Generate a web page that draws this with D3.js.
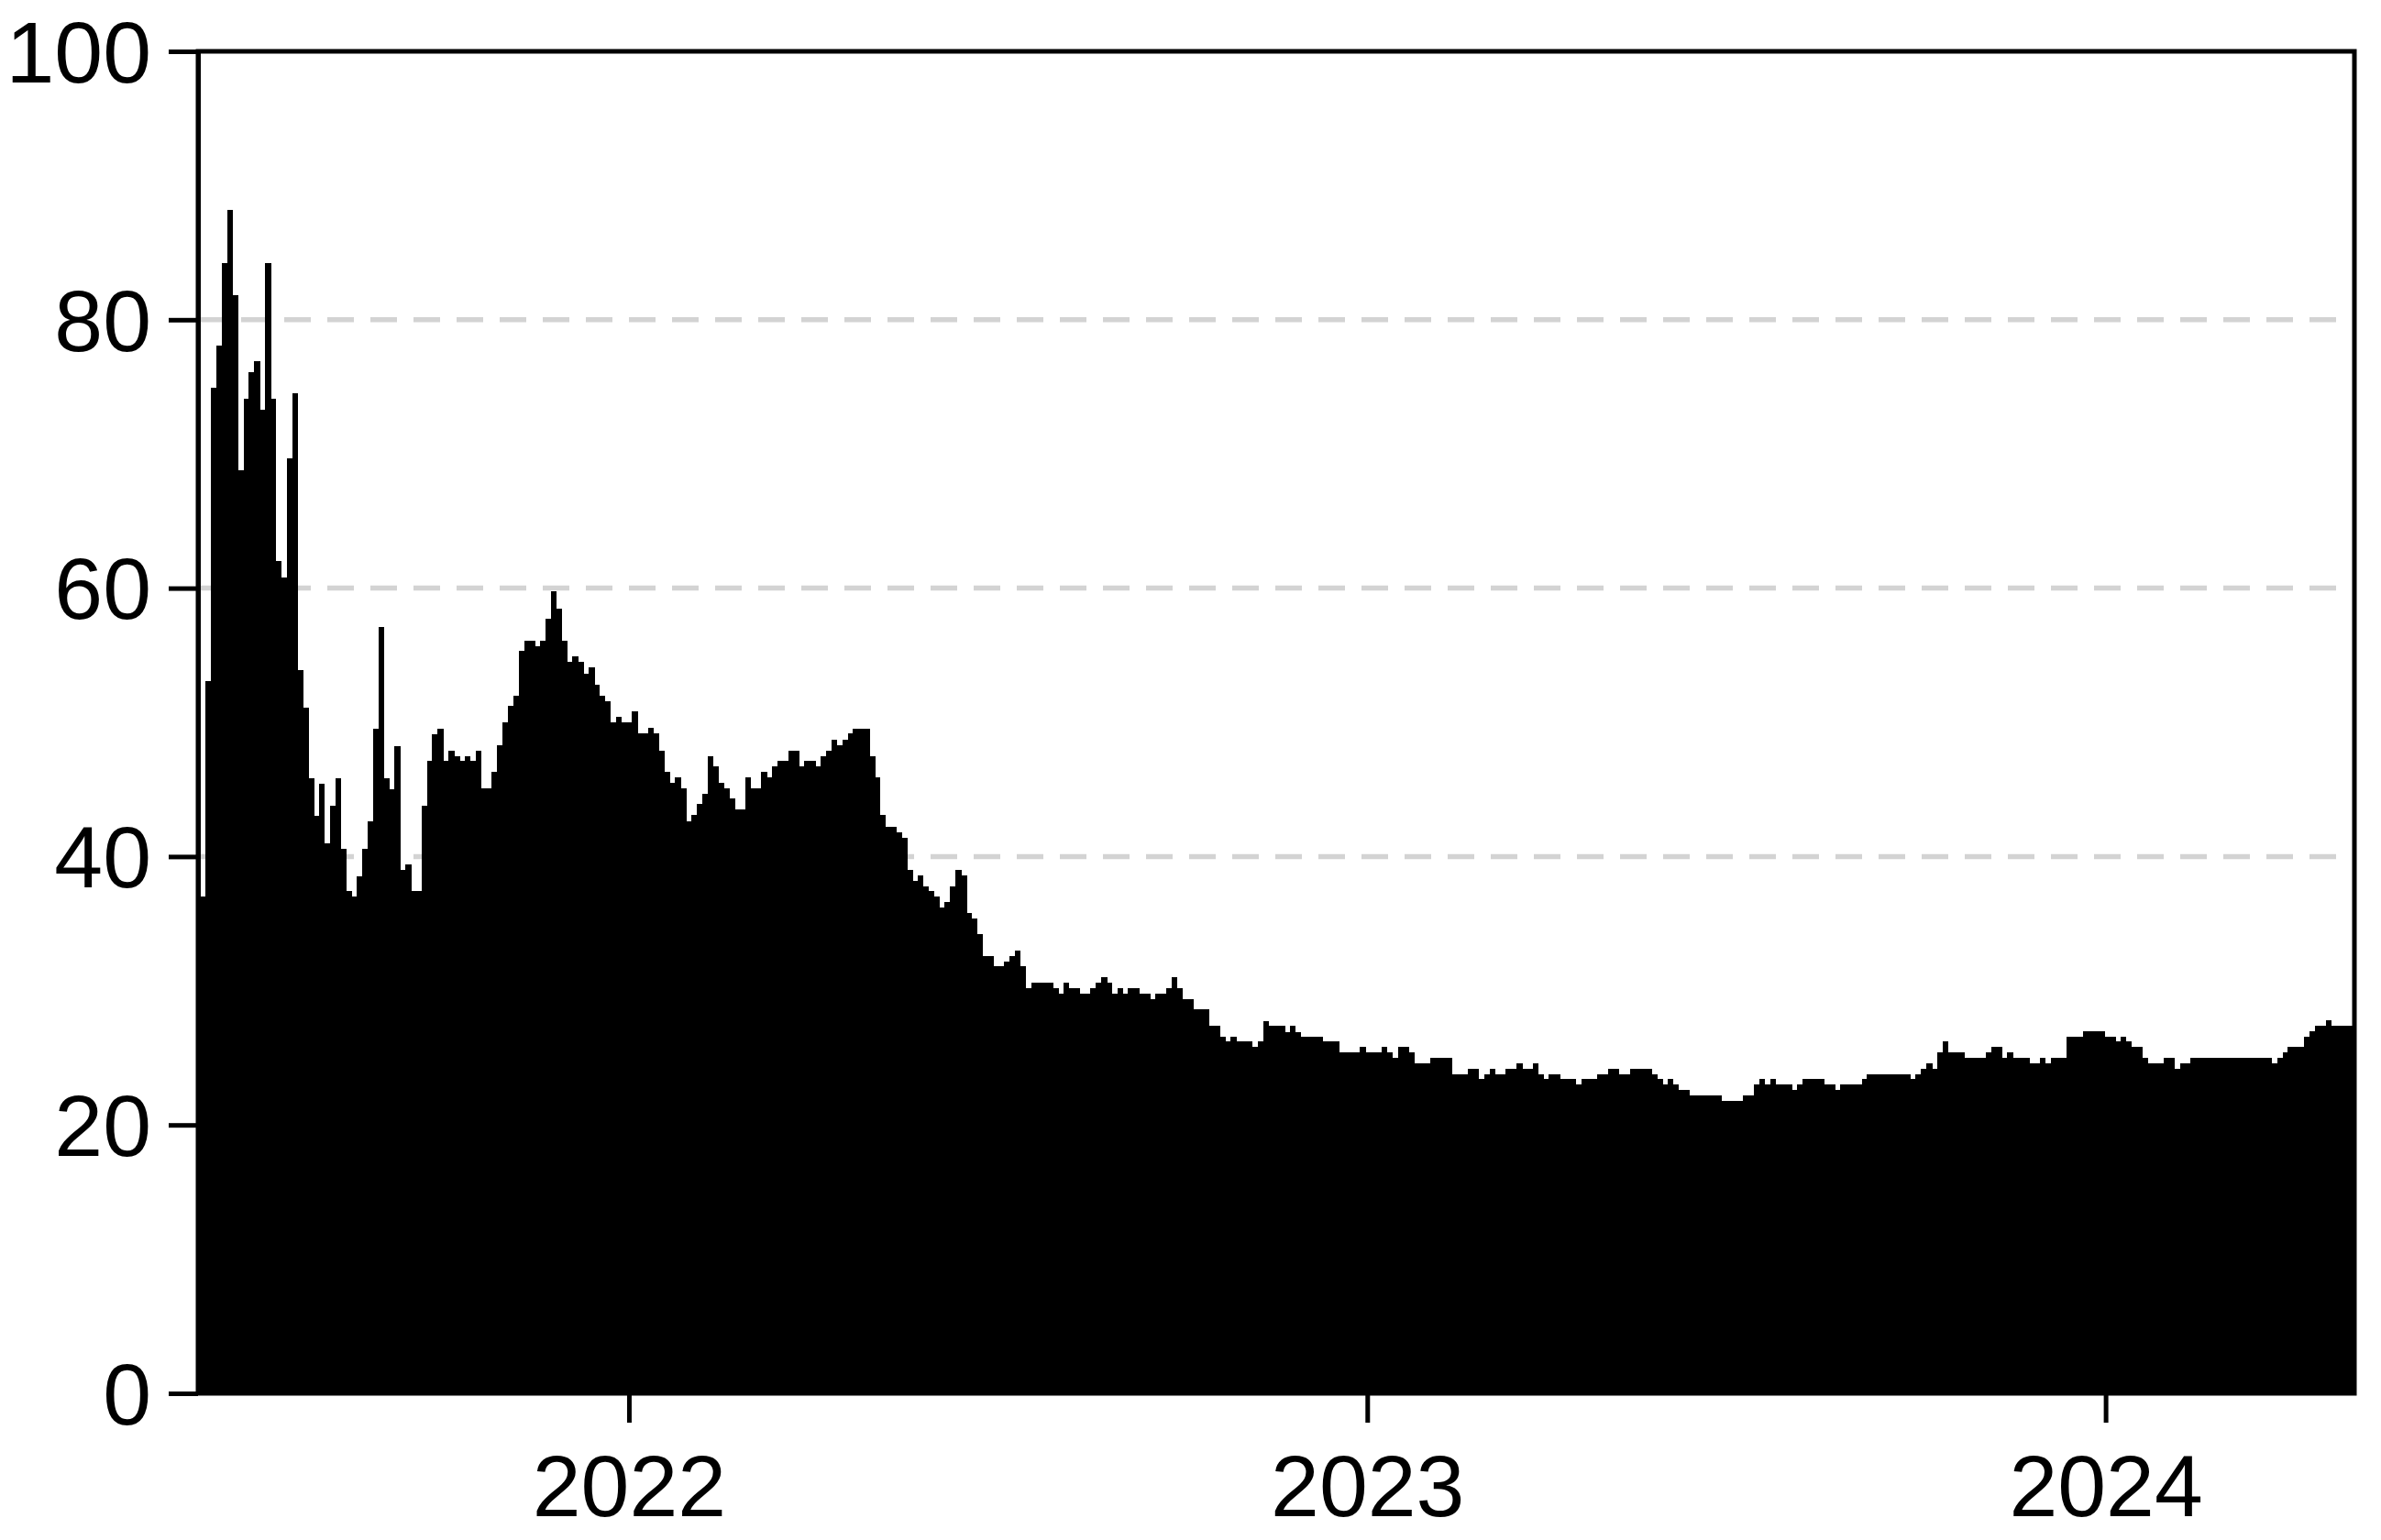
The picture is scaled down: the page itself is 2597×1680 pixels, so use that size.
<!DOCTYPE html>
<html>
<head>
<meta charset="utf-8">
<script src="https://cdn.jsdelivr.net/npm/d3@7"></script>
<style>
  html, body { margin: 0; padding: 0; background: #ffffff; }
  svg { display: block; }
</style>
</head>
<body>
<svg id="chart" width="2597" height="1680"></svg>
<script>
// ---------------- data ----------------
const startDate = new Date(2021, 5, 2);
const endDate = new Date(2024, 4, 3);
const yTicks = [0, 20, 40, 60, 80, 100];
const gridValues = [40, 60, 80];
const xTickDates = [new Date(2022, 0, 1), new Date(2023, 0, 1), new Date(2024, 0, 1)];
const xTickLabels = ["2022", "2023", "2024"];

// values, in time order
const values2021a = [37.0, 53.1, 74.9, 78.1, 84.2, 88.2, 81.8, 68.8, 74.1, 76.1, 76.9, 73.3,
  84.2, 74.1, 62.0, 60.8, 69.7, 74.5, 53.9, 51.1, 45.8, 43.0, 45.4, 41.0, 43.8, 45.8, 40.6,
  37.4, 37.0, 38.5, 40.6, 42.6, 49.5, 57.1, 45.8, 45.0, 48.2, 39.0, 39.4, 37.4, 37.4, 43.8,
  47.1, 49.1, 49.5, 47.1, 47.9, 47.5];
const values2021b = [47.1, 47.5, 47.1, 47.9, 45.1, 45.1, 46.3, 48.3, 50.0, 51.2, 52.0, 55.3,
  56.1, 56.1, 55.7, 56.1, 57.7, 59.8, 58.5, 56.1, 54.5, 54.9, 54.5, 53.6, 54.1, 52.8, 52.0,
  51.6, 50.0, 50.4, 50.0, 50.0, 50.8, 49.2, 49.2, 49.6, 49.2, 47.9, 46.3, 45.5, 45.9, 45.1,
  42.6, 43.1, 43.9, 44.7, 47.5, 46.7, 45.5, 45.1, 44.3, 43.5, 43.5, 45.9, 45.1, 45.1, 46.3,
  45.9, 46.7, 47.1, 47.1, 47.9, 47.9, 46.7, 47.1, 47.1, 46.7, 47.5, 47.9, 48.7, 48.3, 48.7,
  49.2, 49.5, 49.5, 49.5, 47.5, 45.9, 43.1, 42.2, 42.2, 41.8, 41.4, 39.0, 38.2];
const values2022 = [38.6, 37.8, 37.4, 37.0, 36.2, 36.6, 37.8, 39.0, 38.6, 35.8, 35.4, 34.2,
  32.6, 32.6, 31.8, 31.8, 32.2, 32.6, 33.0, 31.8, 30.2, 30.6, 30.6, 30.6, 30.6, 30.2, 29.8,
  30.6, 30.2, 30.2, 29.8, 29.8, 30.2, 30.6, 31.0, 30.6, 29.8, 30.2, 29.8, 30.2, 30.2, 29.8,
  29.8, 29.4, 29.8, 29.8, 30.2, 31.0, 30.2, 29.4, 29.4, 28.6, 28.6, 28.6, 27.4, 27.4, 26.6,
  26.2, 26.6, 26.2, 26.2, 26.2, 25.8, 26.2, 27.7, 27.4, 27.4, 27.4, 26.9, 27.4, 26.9, 26.6,
  26.6, 26.6, 26.6, 26.2, 26.2, 26.2, 25.4, 25.4, 25.4, 25.4, 25.8, 25.4, 25.4, 25.4, 25.8,
  25.4, 25.0, 25.8, 25.8, 25.4, 24.6, 24.6, 24.6, 25.0, 25.0, 25.0, 25.0];
const values2023 = [23.8, 23.8, 23.8, 24.2, 24.2, 23.4, 23.8, 24.2, 23.8, 23.8, 24.2, 24.2,
  24.6, 24.2, 24.2, 24.6, 23.8, 23.4, 23.8, 23.8, 23.4, 23.4, 23.4, 23.0, 23.4, 23.4, 23.4,
  23.8, 23.8, 24.2, 24.2, 23.8, 23.8, 24.2, 24.2, 24.2, 24.2, 23.8, 23.4, 23.0, 23.4, 23.0,
  22.6, 22.6, 22.2, 22.2, 22.2, 22.2, 22.2, 22.2, 21.8, 21.8, 21.8, 21.8, 22.2, 22.2, 23.0,
  23.4, 23.0, 23.4, 23.0, 23.0, 23.0, 22.6, 23.0, 23.4, 23.4, 23.4, 23.4, 23.0, 23.0, 22.6,
  23.0, 23.0, 23.0, 23.0, 23.4, 23.8, 23.8, 23.8, 23.8, 23.8, 23.8, 23.8, 23.8];
const values2024 = [23.4, 23.8, 24.2, 24.6, 24.2, 25.4, 26.2, 25.4, 25.4, 25.4, 25.0, 25.0,
  25.0, 25.0, 25.4, 25.8, 25.8, 25.0, 25.4, 25.0, 25.0, 25.0, 24.6, 24.6, 25.0, 24.6, 25.0,
  25.0, 25.0, 26.6, 26.6, 26.6, 27.0, 27.0, 27.0, 27.0, 26.6, 26.6, 26.2, 26.6, 26.2, 25.8,
  25.8, 25.0, 24.6, 24.6, 24.6, 25.0, 25.0, 24.2, 24.6, 24.6, 25.0, 25.0, 25.0, 25.0, 25.0,
  25.0, 25.0, 25.0, 25.0, 25.0, 25.0, 25.0, 25.0, 25.0, 25.0, 24.6, 25.0, 25.4, 25.8, 25.8,
  25.8, 26.6, 27.0, 27.4, 27.4, 27.8, 27.4, 27.4, 27.4, 27.4];

const values = [].concat(values2021a, values2021b, values2022, values2023, values2024);

// ---------------- layout ----------------
const plotLeft = 216, plotRight = 2568, plotTop = 56, plotBottom = 1520;
const fontFamily = "'Liberation Sans', Arial, Helvetica, sans-serif";
const fontSize = 95;
const lw = 5;

const svg = d3.select("#chart");

const x = d3.scaleTime().domain([startDate, endDate]).range([plotLeft, plotRight]);
const y = d3.scaleLinear().domain([0, 100]).range([plotBottom, plotTop]);
const xb = d3.scaleBand().domain(d3.range(values.length))
  .range([plotLeft + 2.5, plotRight - 2]).paddingInner(0).paddingOuter(0);

// grid lines (behind bars)
svg.append("g").selectAll("line").data(gridValues).join("line")
  .attr("x1", plotLeft).attr("x2", plotRight)
  .attr("y1", d => y(d)).attr("y2", d => y(d))
  .attr("stroke", "#d3d3d3").attr("stroke-width", 5.5)
  .attr("stroke-dasharray", "29,18");

// bars
svg.append("g").attr("shape-rendering", "crispEdges")
  .selectAll("rect").data(values).join("rect")
  .attr("x", (d, i) => xb(i))
  .attr("width", xb.bandwidth() + 0.6)
  .attr("y", d => y(d))
  .attr("height", d => y(0) - y(d))
  .attr("fill", "#000");

// box
svg.append("rect")
  .attr("x", plotLeft).attr("y", plotTop)
  .attr("width", plotRight - plotLeft).attr("height", plotBottom - plotTop)
  .attr("fill", "none").attr("stroke", "#000").attr("stroke-width", lw);

// y axis
const yAxis = svg.append("g").attr("transform", `translate(${plotLeft},0)`)
  .call(d3.axisLeft(y).tickValues(yTicks).tickSize(32).tickSizeOuter(0).tickPadding(19)
    .tickFormat(d3.format("d")));
yAxis.select(".domain").attr("stroke-width", lw);
yAxis.selectAll(".tick line").attr("stroke-width", lw);
yAxis.selectAll("text").attr("font-family", fontFamily).attr("font-size", fontSize)
  .attr("fill", "#000").attr("dy", "0.35em");

// x axis
const xAxis = svg.append("g").attr("transform", `translate(0,${plotBottom})`)
  .call(d3.axisBottom(x).tickValues(xTickDates).tickSize(32).tickSizeOuter(0).tickPadding(35)
    .tickFormat((d, i) => xTickLabels[i]));
xAxis.select(".domain").remove();
xAxis.selectAll(".tick line").attr("stroke-width", lw);
xAxis.selectAll("text").attr("font-family", fontFamily).attr("font-size", fontSize)
  .attr("fill", "#000");
</script>
</body>
</html>
